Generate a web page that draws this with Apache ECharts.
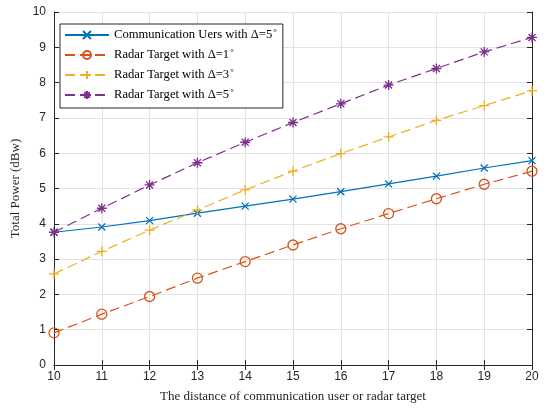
<!DOCTYPE html>
<html>
<head>
<meta charset="utf-8">
<script src="https://cdn.jsdelivr.net/npm/echarts@6/dist/echarts.min.js"></script>
<style>html,body{margin:0;padding:0;background:#fff}#c{width:545px;height:408px}</style>
</head>
<body>
<div id="c"></div>
<script>
const xValues = [10, 11, 12, 13, 14, 15, 16, 17, 18, 19, 20];
const commUsers5 = [3.76, 3.91, 4.09, 4.30, 4.50, 4.70, 4.91, 5.13, 5.35, 5.58, 5.79];
const radar1 = [0.91, 1.44, 1.94, 2.46, 2.93, 3.40, 3.86, 4.29, 4.71, 5.12, 5.49];
const radar3 = [2.58, 3.22, 3.82, 4.39, 4.96, 5.49, 5.99, 6.46, 6.93, 7.35, 7.77];
const radar5 = [3.76, 4.44, 5.10, 5.73, 6.31, 6.87, 7.40, 7.93, 8.40, 8.87, 9.28];
const seriesNames = ['Communication Uers with Δ=5', 'Radar Target with Δ=1', 'Radar Target with Δ=3', 'Radar Target with Δ=5'];
const colors = ['#0072BD', '#D95319', '#EDB120', '#7E2F8E'];

const serif = '"Liberation Serif","Times New Roman",serif';
const sans = '"Liberation Sans",Arial,Helvetica,sans-serif';
const axisColor = '#262626';

const symX = 'path://M0,0L10,10M10,0L0,10';
const symPlus = 'path://M5,0L5,10M0,5L10,5';
const symStar = 'path://M5,0L5,10M0,5L10,5M1.5,1.5L8.5,8.5M8.5,1.5L1.5,8.5';

function pairs(arr) { return xValues.map((x, i) => [x, arr[i]]); }

function mk(i, data, symbol, size, dashed) {
  return {
    name: seriesNames[i],
    type: 'line',
    data: pairs(data),
    symbol: symbol,
    symbolSize: size,
    showAllSymbol: true,
    color: colors[i],
    lineStyle: { color: colors[i], width: 1.2, type: dashed ? [10, 5] : 'solid' },
    itemStyle: { color: 'rgba(0,0,0,0)', borderColor: colors[i], borderWidth: 1.3 },
    emphasis: { disabled: true },
    animation: false,
    z: 3
  };
}

const chart = echarts.init(document.getElementById('c'), null, { renderer: 'canvas' });
const valueAxisCommon = {
  axisLine: { show: true, lineStyle: { color: axisColor, width: 1 } },
  axisTick: { show: true, inside: true, length: 5, lineStyle: { color: axisColor } },
};
chart.setOption({
  animation: false,
  backgroundColor: '#fff',
  grid: { left: 54, right: 13, top: 12, bottom: 43, containLabel: false },
  legend: {
    orient: 'vertical',
    left: 60,
    top: 24,
    itemWidth: 44,
    itemHeight: 10,
    itemGap: 4,
    padding: [4, 6, 4, 4],
    borderColor: axisColor,
    borderWidth: 1,
    backgroundColor: '#fff',
    data: seriesNames,
    formatter: function (n) { return n + '{sup|°}'; },
    textStyle: {
      fontFamily: serif, fontSize: 12.6, color: '#000', lineHeight: 14,
      rich: { sup: { fontFamily: serif, fontSize: 9, color: '#000', lineHeight: 9, verticalAlign: 'top', padding: [0, 0, 7, 1] } }
    }
  },
  xAxis: [
    Object.assign({
      type: 'value', min: 10, max: 20, interval: 1, position: 'bottom',
      name: 'The distance of communication user or radar target',
      nameLocation: 'middle', nameGap: 25,
      nameTextStyle: { fontFamily: serif, fontSize: 13, color: axisColor },
      axisLabel: { fontFamily: sans, fontSize: 12, color: axisColor, margin: 6 },
      splitLine: { show: true, lineStyle: { color: '#e3e3e3', width: 1 } }
    }, valueAxisCommon),
    Object.assign({
      type: 'value', min: 10, max: 20, interval: 1, position: 'top',
      axisLabel: { show: false }, splitLine: { show: false }
    }, valueAxisCommon)
  ],
  yAxis: [
    Object.assign({
      type: 'value', min: 0, max: 10, interval: 1, position: 'left',
      name: 'Total Power (dBw)', nameLocation: 'middle', nameGap: 27,
      nameTextStyle: { fontFamily: serif, fontSize: 13, color: axisColor },
      axisLabel: { fontFamily: sans, fontSize: 12, color: axisColor, margin: 8 },
      splitLine: { show: true, lineStyle: { color: '#e3e3e3', width: 1 } }
    }, valueAxisCommon),
    Object.assign({
      type: 'value', min: 0, max: 10, interval: 1, position: 'right',
      axisLabel: { show: false }, splitLine: { show: false }
    }, valueAxisCommon)
  ],
  series: [
    mk(0, commUsers5, symX, 7, false),
    mk(1, radar1, 'circle', 10, true),
    mk(2, radar3, symPlus, 10, true),
    mk(3, radar5, symStar, 10, true)
  ]
});
</script>
</body>
</html>
